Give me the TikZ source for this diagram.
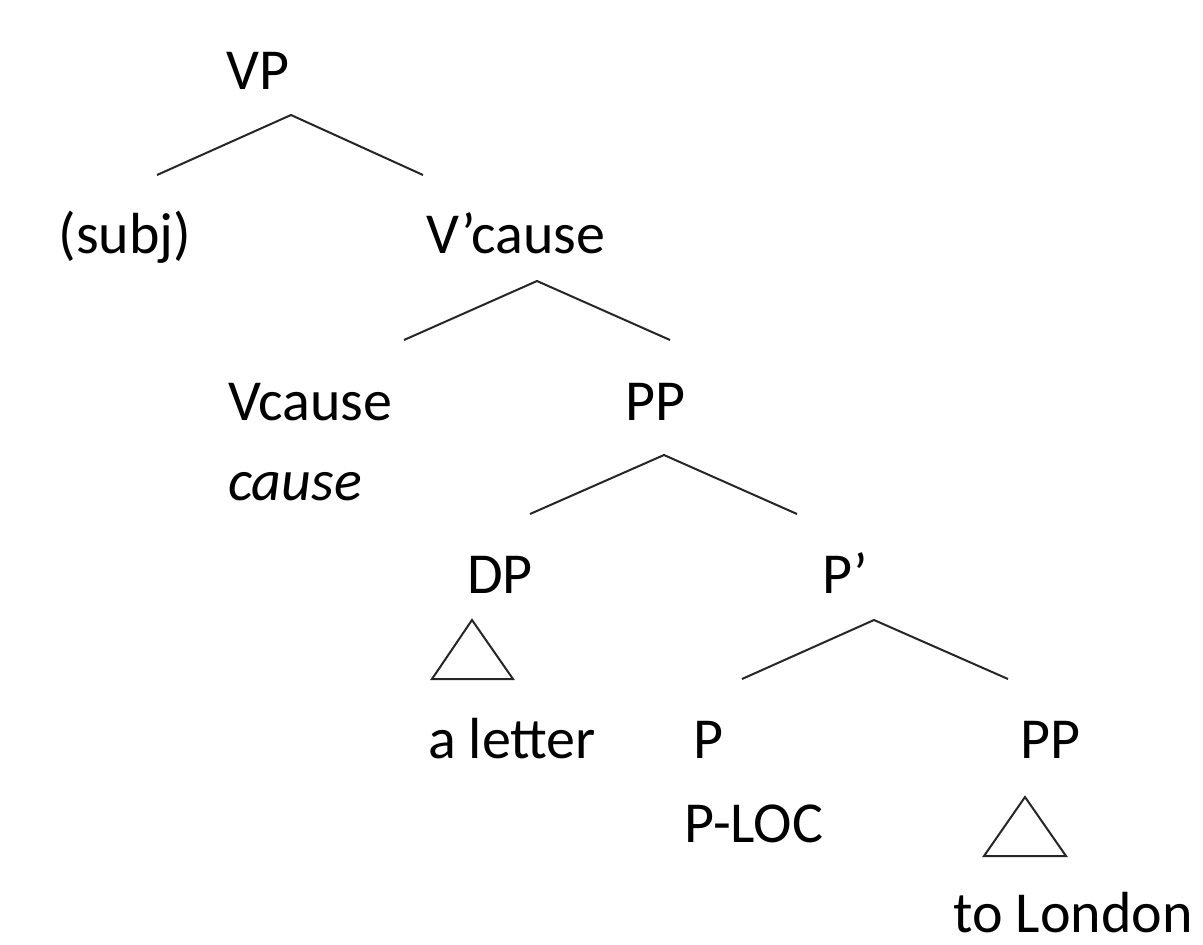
\documentclass[tikz,border=0pt]{standalone}
\usepackage{fontspec}
\setmainfont{Carlito}
\begin{document}
\begin{tikzpicture}[x=1pt,y=-1pt,
  lbl/.style={font=\fontsize{58}{70}\selectfont, inner sep=0pt, anchor=base},
  branch/.style={line width=2pt, black!85},
  tri/.style={line width=2pt, black!85, line join=miter}]
\useasboundingbox (0,0) rectangle (1203,945);
% labels
\node[lbl] (vp) at (258,89) {VP};
\node[lbl] (subj) at (125,253) {(subj)};
\node[lbl] (vbar) at (516,253) {V’cause};
\node[lbl,anchor=base west] (vcause) at (228,420) {Vcause};
\node[lbl,anchor=base west] (cause) at (228,500) {\itshape cause};
\node[lbl] (pp1) at (655,420) {PP};
\node[lbl] (dp) at (500,593) {DP};
\node[lbl] (pbar) at (845,593) {P’};
\node[lbl] (aletter) at (512,758) {a letter};
\node[lbl] (p) at (708,758) {P};
\node[lbl] (pp2) at (1050,758) {PP};
\node[lbl] (ploc) at (754,842) {P-LOC};
\node[lbl,text depth=0pt] (london) at (1073,932) {to London};
% branch coordinates
\coordinate (a1) at (291,115); \coordinate (l1) at (157,175); \coordinate (r1) at (423,175);
\coordinate (a2) at (537,281); \coordinate (l2) at (404,340); \coordinate (r2) at (670,340);
\coordinate (a3) at (664,455); \coordinate (l3) at (530,514); \coordinate (r3) at (797,514);
\coordinate (a4) at (874,620); \coordinate (l4) at (742,679); \coordinate (r4) at (1008,679);
\draw[branch] (l1) -- (a1) -- (r1);
\draw[branch] (l2) -- (a2) -- (r2);
\draw[branch] (l3) -- (a3) -- (r3);
\draw[branch] (l4) -- (a4) -- (r4);
% triangles
\coordinate (t1) at (472,620); \coordinate (t1l) at (432,679); \coordinate (t1r) at (513,679);
\coordinate (t2) at (1025,797); \coordinate (t2l) at (984,856); \coordinate (t2r) at (1066,856);
\draw[tri] (t1) -- (t1l) -- (t1r) -- cycle;
\draw[tri] (t2) -- (t2l) -- (t2r) -- cycle;
\end{tikzpicture}
\end{document}
